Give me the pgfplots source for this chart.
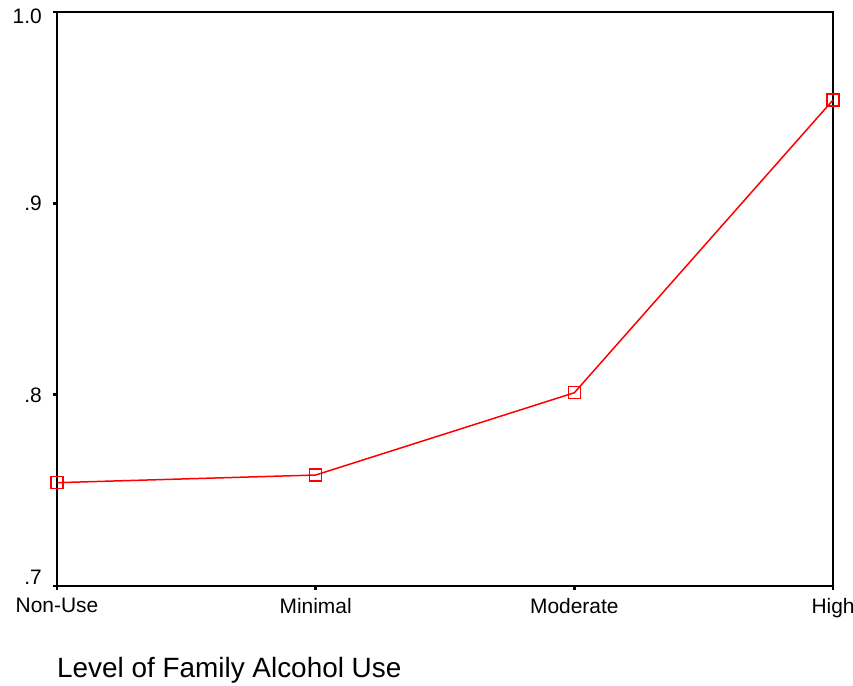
\documentclass[border=0pt]{standalone}
\usepackage{pgfplots}
\pgfplotsset{compat=1.18}
\usepackage{fontspec}
\setmainfont{Liberation Sans}

\begin{document}
\begin{tikzpicture}[x=1bp,y=1bp]
\useasboundingbox (-57,-100) rectangle (796,586);
\begin{axis}[
    at={(0,0)}, anchor=south west,
    scale only axis,
    width=776bp, height=574bp,
    xmin=0, xmax=3,
    ymin=0.7, ymax=1.0,
    xtick={0,1,2,3},
    xticklabels={Non-Use,Minimal,Moderate,High},
    ytick={0.7,0.8,0.9,1.0},
    yticklabels={\raisebox{9bp}{.7},.8,.9,\raisebox{-4bp}{1.0}},
    xtick pos=bottom, ytick pos=left,
    tick align=outside,
    major tick length=4bp,
    tick style={line width=2.5bp, black},
    axis line style={line width=1.6bp},
    ticklabel style={font=\fontsize{21}{24}\selectfont, inner sep=0pt},
    xticklabel style={anchor=north, yshift=-8bp},
    yticklabel style={anchor=base east, xshift=-11bp, yshift=-7.5bp},
    clip=false,
]
\addplot[red, line width=1.5bp, mark=square, mark size=6bp,
         mark options={fill=white, line width=1.5bp}]
coordinates {
    (0,0.754) (1,0.758) (2,0.801) (3,0.954)
};
\node[anchor=base west, inner sep=0pt, font=\fontsize{28}{32}\selectfont]
    at (axis cs:0,0.7) [yshift=-91bp] {Level of Family Alcohol Use};
\end{axis}
\end{tikzpicture}
\end{document}
